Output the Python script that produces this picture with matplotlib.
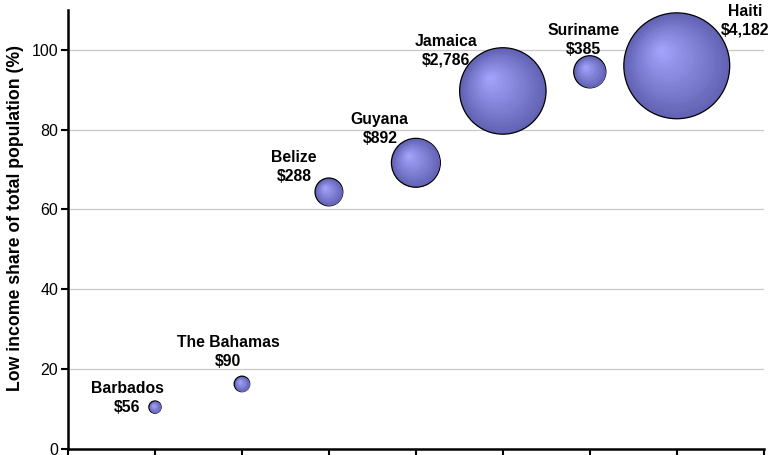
import numpy as np
import matplotlib
matplotlib.use("Agg")
import matplotlib.pyplot as plt
import matplotlib.transforms as mtransforms
from matplotlib.colors import LinearSegmentedColormap

plt.rcParams["font.family"] = ["Liberation Sans", "DejaVu Sans"]

# Caribbean countries: position on the x axis, low income share, bubble value ($)
countries = ["Barbados", "The Bahamas", "Belize", "Guyana", "Jamaica", "Suriname", "Haiti"]
x_pos = [1, 2, 3, 4, 5, 6, 7]
low_income_share = [10.5, 16.3, 64.4, 71.7, 89.7, 94.5, 96.0]
amount = [56, 90, 288, 892, 2786, 385, 4182]

# label placement relative to each bubble, in pixels
label_offsets = [(-28, 9), (-14, 32), (-35, 25), (-36, 34), (-57, 40), (-6, 32), (68, 45)]

fig = plt.figure(figsize=(7.73, 4.55), dpi=100)
ax = fig.add_axes([0.088, 0.0132, 0.9, 0.965])

# bubble area proportional to the value
sizes = np.array(amount) * 1.39

# shaded spheres: stack shrinking discs that drift toward an upper-left highlight
shade = LinearSegmentedColormap.from_list("shade", ["#6262b4", "#a6a6ff"])
n_layers = 24
radii_pt = np.sqrt(sizes) / 2
ax.scatter(x_pos, low_income_share, s=sizes, color="#6262b4",
           edgecolors="black", linewidths=0.9, zorder=3)
for k in range(1, n_layers):
    f = 1 - k / n_layers
    for xi, yi, r, s in zip(x_pos, low_income_share, radii_pt, sizes):
        shift = (1 - f) * r * 0.32
        tr = mtransforms.offset_copy(ax.transData, fig=fig, x=-shift, y=shift, units="points")
        ax.scatter([xi], [yi], s=s * f ** 2, color=shade(k / n_layers),
                   linewidths=0, transform=tr, zorder=3 + k * 0.01)

for name, xi, yi, val, (dx, dy) in zip(countries, x_pos, low_income_share, amount, label_offsets):
    ax.annotate(f"{name}\n${val:,}", (xi, yi), xytext=(dx, dy), textcoords="offset pixels",
                ha="center", va="center", fontsize=11.3, fontweight="bold",
                linespacing=1.3, zorder=5)

ax.set_xlim(0, 8)
ax.set_ylim(0, 110)
ax.set_xticks(range(9))
ax.set_xticklabels([])
ax.set_yticks([0, 20, 40, 60, 80, 100])
ax.tick_params(axis="both", direction="out", length=5, width=1.5, labelsize=11.5)
ax.tick_params(axis="y", pad=2)

for y in [20, 40, 60, 80, 100]:
    ax.axhline(y, color="#c8c8c8", linewidth=0.9, zorder=1)

for side in ["top", "right"]:
    ax.spines[side].set_visible(False)
for side in ["left", "bottom"]:
    ax.spines[side].set_linewidth(1.8)

ax.set_ylabel("Low income share of total population (%)", fontsize=12.7,
              fontweight="bold", labelpad=3)
ax.yaxis.set_label_coords(-0.063, 0.525)

fig.savefig("out.png", dpi=100)
